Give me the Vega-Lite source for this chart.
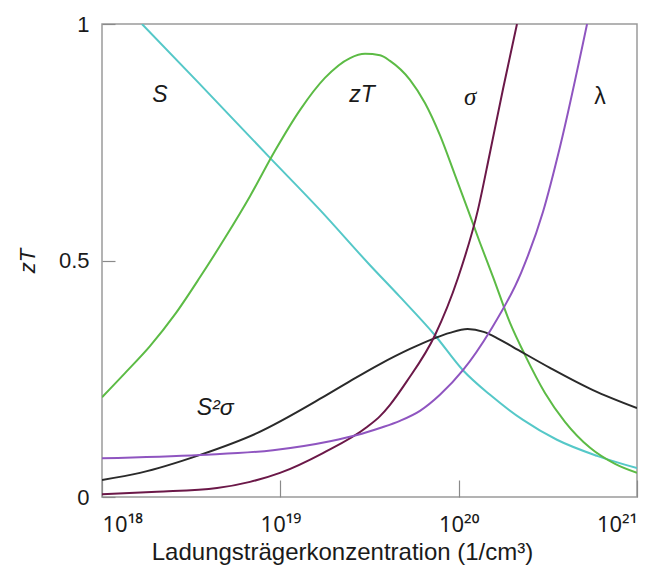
{
  "$schema": "https://vega.github.io/schema/vega-lite/v6.json",
  "width": 535,
  "height": 473,
  "autosize": {"type": "none"},
  "padding": {"left": 102, "top": 24, "right": 25, "bottom": 77},
  "background": "white",
  "config": {
    "view": {"stroke": "#9a9a9a", "strokeWidth": 1.5},
    "font": "Liberation Sans",
    "axis": {"grid": false, "domain": false, "labelFont": "Liberation Sans", "titleFont": "Liberation Sans", "labelColor": "#1a1a1a", "titleColor": "#1a1a1a", "tickColor": "#8a8a8a", "tickWidth": 1.2}
  },
  "datasets": {
    "curves": [
      {"curve": "S", "log_n": 18.224, "value": 1.0},
      {"curve": "S", "log_n": 18.538, "value": 0.877},
      {"curve": "S", "log_n": 18.942, "value": 0.717},
      {"curve": "S", "log_n": 19.222, "value": 0.607},
      {"curve": "S", "log_n": 19.503, "value": 0.49},
      {"curve": "S", "log_n": 19.671, "value": 0.423},
      {"curve": "S", "log_n": 19.867, "value": 0.342},
      {"curve": "S", "log_n": 20.024, "value": 0.268},
      {"curve": "S", "log_n": 20.176, "value": 0.216},
      {"curve": "S", "log_n": 20.361, "value": 0.163},
      {"curve": "S", "log_n": 20.551, "value": 0.121},
      {"curve": "S", "log_n": 20.776, "value": 0.087},
      {"curve": "S", "log_n": 21.0, "value": 0.061},
      {"curve": "zT", "log_n": 18.0, "value": 0.211},
      {"curve": "zT", "log_n": 18.129, "value": 0.262},
      {"curve": "zT", "log_n": 18.269, "value": 0.319},
      {"curve": "zT", "log_n": 18.409, "value": 0.386},
      {"curve": "zT", "log_n": 18.55, "value": 0.465},
      {"curve": "zT", "log_n": 18.69, "value": 0.548},
      {"curve": "zT", "log_n": 18.83, "value": 0.636},
      {"curve": "zT", "log_n": 18.97, "value": 0.732},
      {"curve": "zT", "log_n": 19.11, "value": 0.818},
      {"curve": "zT", "log_n": 19.25, "value": 0.886},
      {"curve": "zT", "log_n": 19.391, "value": 0.928},
      {"curve": "zT", "log_n": 19.475, "value": 0.937},
      {"curve": "zT", "log_n": 19.559, "value": 0.934},
      {"curve": "zT", "log_n": 19.615, "value": 0.922},
      {"curve": "zT", "log_n": 19.727, "value": 0.882},
      {"curve": "zT", "log_n": 19.811, "value": 0.833},
      {"curve": "zT", "log_n": 19.895, "value": 0.765},
      {"curve": "zT", "log_n": 19.979, "value": 0.681},
      {"curve": "zT", "log_n": 20.052, "value": 0.607},
      {"curve": "zT", "log_n": 20.12, "value": 0.537},
      {"curve": "zT", "log_n": 20.193, "value": 0.465},
      {"curve": "zT", "log_n": 20.288, "value": 0.368},
      {"curve": "zT", "log_n": 20.372, "value": 0.3},
      {"curve": "zT", "log_n": 20.484, "value": 0.22},
      {"curve": "zT", "log_n": 20.596, "value": 0.159},
      {"curve": "zT", "log_n": 20.737, "value": 0.104},
      {"curve": "zT", "log_n": 20.877, "value": 0.07},
      {"curve": "zT", "log_n": 21.0, "value": 0.051},
      {"curve": "S2sigma", "log_n": 18.0, "value": 0.036},
      {"curve": "S2sigma", "log_n": 18.213, "value": 0.051},
      {"curve": "S2sigma", "log_n": 18.55, "value": 0.089},
      {"curve": "S2sigma", "log_n": 18.869, "value": 0.135},
      {"curve": "S2sigma", "log_n": 19.239, "value": 0.211},
      {"curve": "S2sigma", "log_n": 19.391, "value": 0.245},
      {"curve": "S2sigma", "log_n": 19.559, "value": 0.281},
      {"curve": "S2sigma", "log_n": 19.727, "value": 0.313},
      {"curve": "S2sigma", "log_n": 19.867, "value": 0.336},
      {"curve": "S2sigma", "log_n": 19.95, "value": 0.347},
      {"curve": "S2sigma", "log_n": 20.05, "value": 0.355},
      {"curve": "S2sigma", "log_n": 20.14, "value": 0.349},
      {"curve": "S2sigma", "log_n": 20.22, "value": 0.335},
      {"curve": "S2sigma", "log_n": 20.305, "value": 0.317},
      {"curve": "S2sigma", "log_n": 20.512, "value": 0.273},
      {"curve": "S2sigma", "log_n": 20.753, "value": 0.226},
      {"curve": "S2sigma", "log_n": 21.0, "value": 0.188},
      {"curve": "sigma", "log_n": 18.0, "value": 0.006},
      {"curve": "sigma", "log_n": 18.308, "value": 0.011},
      {"curve": "sigma", "log_n": 18.645, "value": 0.019},
      {"curve": "sigma", "log_n": 18.83, "value": 0.032},
      {"curve": "sigma", "log_n": 18.998, "value": 0.051},
      {"curve": "sigma", "log_n": 19.239, "value": 0.093},
      {"curve": "sigma", "log_n": 19.486, "value": 0.148},
      {"curve": "sigma", "log_n": 19.559, "value": 0.171},
      {"curve": "sigma", "log_n": 19.615, "value": 0.195},
      {"curve": "sigma", "log_n": 19.71, "value": 0.245},
      {"curve": "sigma", "log_n": 19.867, "value": 0.342},
      {"curve": "sigma", "log_n": 19.996, "value": 0.463},
      {"curve": "sigma", "log_n": 20.108, "value": 0.607},
      {"curve": "sigma", "log_n": 20.176, "value": 0.729},
      {"curve": "sigma", "log_n": 20.249, "value": 0.863},
      {"curve": "sigma", "log_n": 20.327, "value": 1.0},
      {"curve": "lambda", "log_n": 18.0, "value": 0.082},
      {"curve": "lambda", "log_n": 18.55, "value": 0.089},
      {"curve": "lambda", "log_n": 18.959, "value": 0.099},
      {"curve": "lambda", "log_n": 19.279, "value": 0.118},
      {"curve": "lambda", "log_n": 19.43, "value": 0.131},
      {"curve": "lambda", "log_n": 19.559, "value": 0.146},
      {"curve": "lambda", "log_n": 19.671, "value": 0.161},
      {"curve": "lambda", "log_n": 19.783, "value": 0.182},
      {"curve": "lambda", "log_n": 19.895, "value": 0.216},
      {"curve": "lambda", "log_n": 20.024, "value": 0.268},
      {"curve": "lambda", "log_n": 20.176, "value": 0.351},
      {"curve": "lambda", "log_n": 20.35, "value": 0.474},
      {"curve": "lambda", "log_n": 20.473, "value": 0.603},
      {"curve": "lambda", "log_n": 20.568, "value": 0.74},
      {"curve": "lambda", "log_n": 20.72, "value": 1.0}
    ],
    "labels": [
      {"text": "S", "log_n": 18.325, "value": 0.85, "kind": "sans-italic"},
      {"text": "zT", "log_n": 19.458, "value": 0.85, "kind": "sans-italic"},
      {"text": "σ", "log_n": 20.064, "value": 0.846, "kind": "serif-italic"},
      {"text": "λ", "log_n": 20.793, "value": 0.846, "kind": "sans-normal"},
      {"text": "S²σ", "log_n": 18.634, "value": 0.188, "kind": "sans-italic"}
    ]
  },
  "layer": [
    {
      "data": {"name": "curves"},
      "mark": {"type": "line", "strokeWidth": 2, "clip": true, "interpolate": "monotone"},
      "encoding": {
        "x": {
          "field": "log_n", "type": "quantitative",
          "scale": {"domain": [18, 21], "nice": false, "zero": false},
          "axis": {
            "values": [18, 19, 20, 21],
            "tickSize": -17,
            "labelFont": "Noto Sans",
            "labelFontSize": 22,
            "labelFlush": true,
            "labelPadding": 34,
            "labelExpr": "'10' + (datum.value == 18 ? '¹⁸' : datum.value == 19 ? '¹⁹' : datum.value == 20 ? '²⁰' : '²¹')",
            "title": "Ladungsträgerkonzentration (1/cm³)",
            "titleFontSize": 24,
            "titleFontWeight": "normal",
            "titleX": 240,
            "titleY": 62,
            "titleBaseline": "alphabetic",
            "titleAlign": "center"
          }
        },
        "y": {
          "field": "value", "type": "quantitative",
          "scale": {"domain": [0, 1], "nice": false},
          "axis": {
            "values": [0, 0.5, 1],
            "tickSize": -13,
            "labelFontSize": 22,
            "labelPadding": 26,
            "labelExpr": "datum.value == 0.5 ? '0.5' : datum.value == 1 ? '1' : '0'",
            "title": "zT",
            "titleFontSize": 22,
            "titleFontWeight": "normal",
            "titleFontStyle": "italic",
            "titlePadding": 19
          }
        },
        "color": {
          "field": "curve", "type": "nominal",
          "scale": {"domain": ["S", "zT", "S2sigma", "sigma", "lambda"], "range": ["#55c8c8", "#5cbb45", "#2a2a2a", "#6b1848", "#8f55c0"]},
          "legend": null
        }
      }
    },
    {
      "data": {"name": "labels"},
      "transform": [{"filter": "datum.kind == 'sans-italic'"}],
      "mark": {"type": "text", "fontSize": 23, "color": "#1a1a1a", "align": "center", "baseline": "middle", "font": "Liberation Sans", "fontStyle": "italic"},
      "encoding": {
        "x": {"field": "log_n", "type": "quantitative"},
        "y": {"field": "value", "type": "quantitative"},
        "text": {"field": "text"}
      }
    },
    {
      "data": {"name": "labels"},
      "transform": [{"filter": "datum.kind == 'serif-italic'"}],
      "mark": {"type": "text", "fontSize": 25, "color": "#1a1a1a", "align": "center", "baseline": "middle", "font": "Liberation Serif", "fontStyle": "italic"},
      "encoding": {
        "x": {"field": "log_n", "type": "quantitative"},
        "y": {"field": "value", "type": "quantitative"},
        "text": {"field": "text"}
      }
    },
    {
      "data": {"name": "labels"},
      "transform": [{"filter": "datum.kind == 'sans-normal'"}],
      "mark": {"type": "text", "fontSize": 23, "color": "#1a1a1a", "align": "center", "baseline": "middle", "font": "Liberation Sans"},
      "encoding": {
        "x": {"field": "log_n", "type": "quantitative"},
        "y": {"field": "value", "type": "quantitative"},
        "text": {"field": "text"}
      }
    }
  ]
}
